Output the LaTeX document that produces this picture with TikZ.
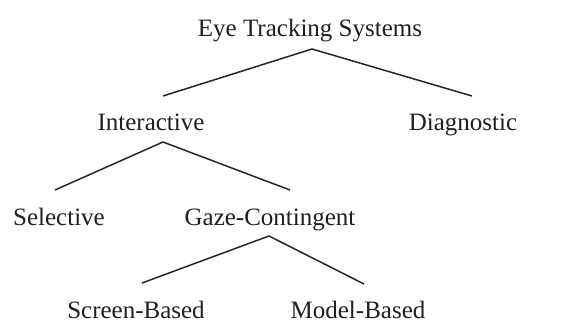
\documentclass[tikz,border=0pt]{standalone}
\usepackage{fontspec}
\setmainfont{Liberation Serif}
\begin{document}
\begin{tikzpicture}[x=1pt,y=-1pt,
  lbl/.style={inner sep=0pt,anchor=base,text depth=0pt,font=\fontsize{25}{28}\selectfont,text=black!88},
  edge/.style={draw=black!85,line width=1.5pt}]
\useasboundingbox (0,0) rectangle (574,322);
\node[lbl] (root) at (310,36) {Eye Tracking Systems};
\node[lbl] (inter) at (151,130) {Interactive};
\node[lbl] (diag) at (463,130) {Diagnostic};
\node[lbl] (sel) at (59,225) {Selective};
\node[lbl] (gaze) at (270,225) {Gaze-Contingent};
\node[lbl] (screen) at (136,318) {Screen-Based};
\node[lbl] (model) at (358,318) {Model-Based};
\coordinate (a1) at (312,49);
\coordinate (l1) at (163,96);
\coordinate (r1) at (472,96);
\coordinate (a2) at (163,142);
\coordinate (l2) at (55,190);
\coordinate (r2) at (290,190);
\coordinate (a3) at (269,236);
\coordinate (l3) at (142,283);
\coordinate (r3) at (364,284);
\draw[edge] (l1) -- (a1) -- (r1);
\draw[edge] (l2) -- (a2) -- (r2);
\draw[edge] (l3) -- (a3) -- (r3);
\end{tikzpicture}
\end{document}
